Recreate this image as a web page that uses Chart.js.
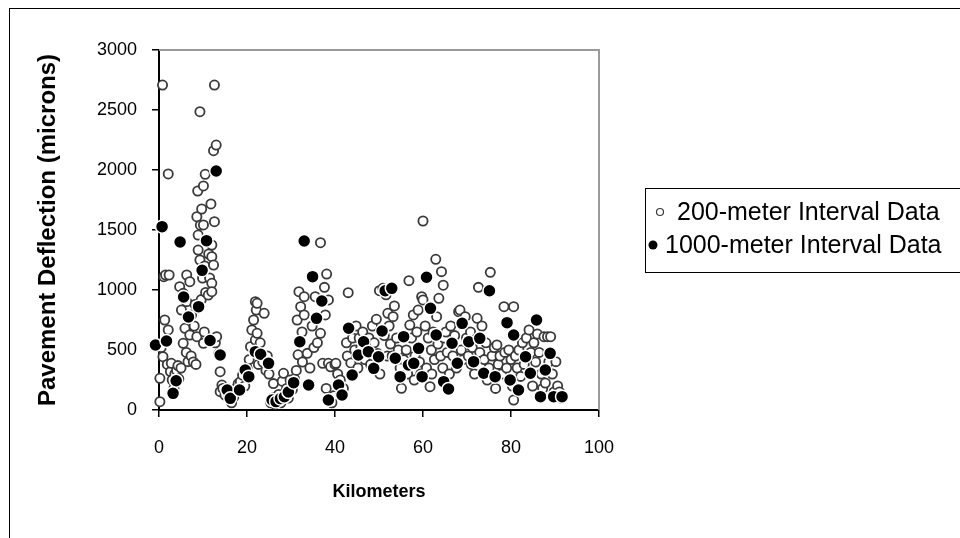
<!DOCTYPE html>
<html><head><meta charset="utf-8">
<script src="https://cdn.jsdelivr.net/npm/chart.js@4/dist/chart.umd.min.js"></script>
<style>html,body{margin:0;padding:0;background:#fff;overflow:hidden}canvas{display:block}</style>
</head><body>
<canvas id="c" width="960" height="538"></canvas>
<script>
// ---- data ----
const seriesLabels = ['200-meter Interval Data', '1000-meter Interval Data'];
const xTitle = 'Kilometers';
const yTitle = 'Pavement Deflection (microns)';
const xTicks = [0, 20, 40, 60, 80, 100];
const yTicks = [0, 500, 1000, 1500, 2000, 2500, 3000];

const km200 = [
 0.2,0.2,0.5,0.8,0.9,1.1,1.3,1.5,1.9,2.1,2.1,2.3,2.6,2.8,3.0,3.4,3.6,4.0,4.3,4.5,4.7,
 5.0,5.1,5.5,5.5,5.9,6.2,6.3,6.3,6.6,7.0,7.0,7.3,7.4,7.8,8.0,8.2,8.4,8.6,8.6,8.8,8.9,8.9,9.3,9.3,9.4,9.6,9.7,9.9,
 10.1,10.1,10.1,10.3,10.4,10.5,10.6,11.2,11.3,11.5,11.8,12.0,12.0,12.0,12.0,12.4,12.4,12.6,12.6,12.8,13.0,13.1,13.6,13.9,13.9,14.3,14.5,
 15.0,15.8,16.5,17.0,17.5,18.0,18.5,19.0,19.5,20.0,20.2,20.5,20.8,21.1,21.5,21.9,21.9,22.1,22.3,22.3,22.6,23.0,23.6,23.9,24.3,24.6,
 25.0,25.4,25.9,26.0,26.3,26.8,27.2,27.7,28.0,28.1,28.3,28.6,29.0,29.4,29.8,30.3,30.8,31.2,31.4,31.6,31.8,32.2,32.5,32.6,33.0,33.0,33.7,34.3,34.8,
 35.2,35.5,36.0,36.7,36.7,37.2,37.6,37.8,38.0,38.1,38.5,38.5,38.8,39.0,39.3,39.8,40.0,40.2,40.6,41.2,41.9,42.6,42.8,43.0,43.6,44.0,44.5,44.8,
 45.2,45.5,45.9,46.3,46.8,47.2,47.7,48.1,48.5,48.9,49.4,49.7,50.1,50.2,50.9,51.2,51.6,51.9,52.0,52.3,52.6,53.0,53.2,53.5,54.0,54.4,54.8,
 55.1,55.6,56.2,56.5,56.8,57.0,57.4,57.8,58.0,58.2,58.6,58.9,59.2,59.5,59.7,60.0,60.0,60.5,60.8,61.2,61.6,61.9,62.0,62.3,62.6,62.9,63.1,63.4,63.6,64.0,64.2,64.5,64.6,64.8,
 65.2,65.5,66.0,66.3,66.8,67.2,67.6,68.1,68.4,68.7,69.1,69.6,69.9,70.3,70.8,71.0,71.2,71.7,72.3,72.6,72.9,73.4,73.9,74.3,74.6,75.0,
 75.3,75.7,76.2,76.5,76.8,77.1,77.5,77.9,78.4,78.6,79.0,79.5,80.0,80.3,80.6,80.6,81.0,81.4,81.8,82.2,82.6,83.0,83.5,84.1,84.5,84.9,
 85.2,85.6,86.0,86.4,86.9,87.2,87.5,87.8,88.3,88.6,89.0,89.4,89.8,90.2,90.6,91.0,91.4
];
const defl200 = [
 69,264,520,2708,444,1111,750,1125,380,1967,667,1125,320,389,250,180,300,330,370,260,1028,
 350,833,972,556,681,480,903,1125,403,625,1069,450,792,400,700,880,380,611,1611,1825,1458,1333,2486,1250,1540,920,1675,1100,
 1867,1542,556,650,1200,1964,980,958,1300,1100,1717,1375,1278,1056,986,2161,1208,2708,1569,560,2208,611,470,319,153,208,180,
 125,120,60,110,180,220,236,290,200,350,300,420,528,667,750,583,903,833,889,639,380,560,400,806,330,450,
 300,60,100,220,50,80,130,60,240,90,306,140,180,100,250,170,260,330,750,460,986,861,650,400,944,792,472,350,700,
 520,944,560,1394,639,389,1022,792,180,1133,917,389,100,360,60,120,380,389,300,250,180,560,450,978,392,600,500,700,
 350,600,520,650,420,500,600,380,700,560,756,470,994,300,1014,620,960,450,806,700,550,450,778,867,600,500,350,
 181,420,500,300,1078,708,600,792,250,450,650,833,400,300,944,1575,917,700,350,600,194,500,300,650,420,1256,778,550,931,450,1153,350,1040,600,
 650,480,300,700,450,620,350,819,833,500,420,778,600,450,650,380,520,300,764,1022,480,700,420,560,250,350,
 1147,450,520,180,542,380,450,300,861,480,350,500,420,200,861,83,450,350,500,280,560,380,600,667,480,200,
 560,400,633,480,300,180,611,225,611,400,611,300,150,403,200,150,100
];

const km1000 = [
 -0.8,0.7,1.7,3.2,3.9,4.8,5.6,6.7,9.0,9.8,10.8,11.6,13.0,13.9,15.5,16.2,18.3,19.6,20.4,21.9,
 23.1,24.9,25.7,26.6,27.6,28.5,29.4,30.6,32.0,33.0,34.0,34.9,35.8,37.0,38.5,40.8,41.6,43.1,43.9,45.3,
 46.5,47.6,48.8,49.9,50.7,51.4,52.9,53.7,54.8,55.6,56.7,57.9,59.0,59.8,60.8,61.7,63.0,64.7,65.8,66.6,
 67.8,68.9,70.4,71.5,72.9,73.8,75.1,76.4,79.1,79.8,80.6,81.7,83.3,84.4,85.8,86.7,87.8,88.9,89.7,91.6
];
const defl1000 = [
 542,1528,575,139,244,1400,942,775,861,1164,1411,579,1992,458,167,97,167,333,278,486,
 465,389,83,70,95,110,150,228,569,1408,208,1111,764,908,83,208,125,681,292,458,
 569,486,347,444,658,994,1014,431,278,611,375,389,514,278,1106,847,625,236,175,556,
 390,722,569,403,597,306,994,278,728,250,625,167,444,306,750,111,333,472,111,111
];

// ---- styling ----
const FONT = '"Liberation Sans", Arial, Helvetica, sans-serif';
const toPoints = (xs, ys) => xs.map((x, i) => ({x: x, y: ys[i]}));

const framePlugin = {
  id: 'frame',
  beforeDraw(chart) {
    const ctx = chart.ctx;
    ctx.save();
    ctx.fillStyle = '#fff';
    ctx.fillRect(0, 0, chart.width, chart.height);
    ctx.strokeStyle = '#000';
    ctx.lineWidth = 1;
    ctx.strokeRect(9.5, 8.5, 1000, 600);
    ctx.restore();
  },
  beforeDatasetsDraw(chart) {
    const {ctx, chartArea: a} = chart;
    ctx.save();
    ctx.strokeStyle = '#9a9a9a';
    ctx.lineWidth = 2;
    ctx.beginPath();
    ctx.moveTo(a.left, a.top);
    ctx.lineTo(a.right, a.top);
    ctx.lineTo(a.right, a.bottom);
    ctx.stroke();
    ctx.restore();
  }
};

const legendPlugin = {
  id: 'boxLegend',
  afterDraw(chart) {
    const ctx = chart.ctx;
    ctx.save();
    ctx.strokeStyle = '#000';
    ctx.lineWidth = 1;
    ctx.strokeRect(645.5, 188.5, 400, 84);
    ctx.font = '25px ' + FONT;
    ctx.textBaseline = 'middle';
    ctx.textAlign = 'left';
    const rows = [{y: 212, mx: 660, tx: 677, r: 3.5}, {y: 245, mx: 653, tx: 665, r: 4.5}];
    chart.data.datasets.forEach((ds, i) => {
      const r = rows[i];
      ctx.beginPath();
      ctx.arc(r.mx, r.y, r.r, 0, Math.PI * 2);
      ctx.fillStyle = ds.backgroundColor;
      ctx.fill();
      if (i === 0) { ctx.strokeStyle = ds.borderColor; ctx.lineWidth = 1.2; ctx.stroke(); }
      ctx.fillStyle = '#000';
      ctx.fillText(ds.label, r.tx, r.y + 1);
    });
    ctx.restore();
  }
};

new Chart(document.getElementById('c'), {
  type: 'scatter',
  data: {
    datasets: [
      {
        label: seriesLabels[0],
        data: toPoints(km200, defl200),
        pointRadius: 4.6,
        borderWidth: 1.8,
        borderColor: '#3a3a3a',
        backgroundColor: '#fff',
        clip: false,
        order: 1
      },
      {
        label: seriesLabels[1],
        data: toPoints(km1000, defl1000),
        pointRadius: 6.5,
        borderWidth: 1.5,
        borderColor: '#fff',
        backgroundColor: '#000',
        clip: false,
        order: 0
      }
    ]
  },
  options: {
    responsive: false,
    animation: false,
    devicePixelRatio: 1,
    events: [],
    layout: {padding: {left: 0, top: 50, right: 361, bottom: 0}},
    plugins: {legend: {display: false}, tooltip: {enabled: false}},
    scales: {
      x: {
        type: 'linear',
        min: 0, max: 100,
        afterFit: s => { s.height = 128; },
        afterBuildTicks: s => { s.ticks = xTicks.map(v => ({value: v})); },
        ticks: {color: '#000', font: {family: FONT, size: 18}, padding: 20, maxRotation: 0, callback: v => String(v)},
        grid: {display: true, drawOnChartArea: false, drawTicks: true, tickLength: 7, color: '#000', lineWidth: 1.5},
        border: {display: true, color: '#000', width: 2},
        title: {display: true, text: xTitle, color: '#000', font: {family: FONT, size: 18, weight: 'bold'}, padding: {top: 0, bottom: 35}}
      },
      y: {
        type: 'linear',
        min: 0, max: 3000,
        afterFit: s => { s.width = 159; },
        afterBuildTicks: s => { s.ticks = yTicks.map(v => ({value: v})); },
        ticks: {color: '#000', font: {family: FONT, size: 18}, padding: 15, callback: v => String(v)},
        grid: {display: true, drawOnChartArea: false, drawTicks: true, tickLength: 7, color: '#000', lineWidth: 1.5},
        border: {display: true, color: '#000', width: 2},
        title: {display: true, text: yTitle, color: '#000', font: {family: FONT, size: 24, weight: 'bold'}, padding: {top: 34, bottom: 0}}
      }
    }
  },
  plugins: [framePlugin, legendPlugin]
});
</script>
</body></html>
